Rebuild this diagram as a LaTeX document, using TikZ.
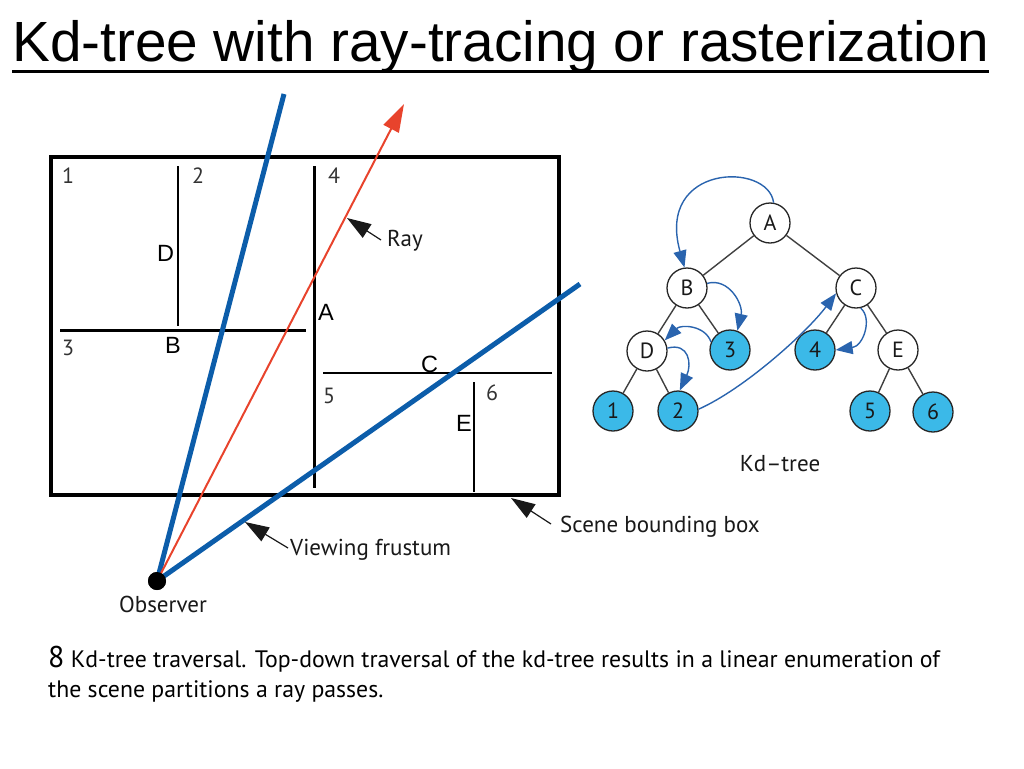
\documentclass[tikz,border=0pt]{standalone}
\usepackage{fontspec}
\setmainfont{Liberation Sans}
\newfontfamily\myr{PT Sans}
\usetikzlibrary{arrows.meta}
\definecolor{fblue}{HTML}{0C5DAA}
\definecolor{rred}{HTML}{E8432C}
\definecolor{leafc}{HTML}{3BB9E8}
\definecolor{curvec}{HTML}{2A64AE}
\definecolor{numgray}{HTML}{333333}
\begin{document}
\begin{tikzpicture}[x=1pt,y=1pt,
  lbl/.style={anchor=base west,inner sep=0,font=\fontsize{23.5}{24}\selectfont},
  num/.style={anchor=base west,inner sep=0,text=numgray,font=\myr\fontsize{22}{22}\selectfont},
  callout/.style={anchor=base west,inner sep=0,text=black!90,font=\myr\fontsize{23}{24}\selectfont},
  part/.style={line width=2.5pt,black},
  frust/.style={line width=5pt,fblue},
  pointer/.style={line width=1.2pt,black!90,-{Triangle[length=24pt,width=16pt]}},
  tnode/.style={circle,draw=black!85,line width=1.3pt,minimum size=40pt,inner sep=0,fill=white,text=black!90,font=\myr\fontsize{22}{22}\selectfont},
  leaf/.style={tnode,fill=leafc},
  tedge/.style={line width=1.4pt,black!75},
  trav/.style={line width=1.4pt,curvec,-{Triangle[length=17pt,width=13pt]},fill=none},
]
\useasboundingbox (0,0) rectangle (1024,-768);

% title
\node[anchor=base west,inner sep=0,font=\fontsize{56.7}{60}\selectfont] (title) at (12,-62) {Kd-tree with ray-tracing or rasterization};
\draw[line width=3pt] ([yshift=-9pt]title.base west) -- ([yshift=-9pt]title.base east);

% scene box and partitions
\draw[line width=4pt] (51,-157) rectangle (559,-495);
\draw[part] (178,-166) -- (178,-326);
\draw[part] (60,-330.5) -- (306,-330.5);
\draw[part] (314.5,-166) -- (314.5,-488);
\draw[part] (323,-373) -- (552,-373);
\draw[part] (474,-382) -- (474,-492);

% region numbers
\node[num] (n1) at (62,-183) {1};
\node[num] (n2) at (192,-183) {2};
\node[num] (n4) at (328,-183) {4};
\node[num] (n3) at (62,-355) {3};
\node[num] (n5) at (323,-403) {5};
\node[num] (n6) at (486,-400) {6};

% split labels
\node[lbl] (lD) at (157,-261) {D};
\node[lbl] (lB) at (165,-353) {B};
\node[lbl] (lA) at (318,-320) {A};
\node[lbl] (lC) at (421,-372) {C};
\node[lbl] (lE) at (456,-431) {E};

% observer, frustum, ray
\coordinate (f1) at (284,-94);
\coordinate (f2) at (580,-284);
\coordinate (rtip) at (404,-104);
\node[circle,fill=black,minimum size=18pt,inner sep=0] (obs) at (157,-581) {};
\draw[frust] (obs.center) -- (f1);
\draw[frust] (obs.center) -- (f2);
\draw[line width=2pt,rred,-{Triangle[length=28pt,width=17pt]}] (obs.center) -- (rtip);
\node[circle,fill=black,minimum size=18pt,inner sep=0] at (obs) {};

% callouts
\coordinate (rayp) at (347,-218);
\coordinate (frp) at (245,-522);
\coordinate (bbp) at (511,-498);
\node[callout] (tray) at (387,-246) {Ray};
\node[callout] (tfr) at (290,-555) {Viewing frustum};
\node[callout] (tbb) at (560,-532) {Scene bounding box};
\node[anchor=base,inner sep=0,text=black!90,font=\myr\fontsize{23}{24}\selectfont] (tobs) at (163,-612) {Observer};
\draw[pointer] (381,-240) -- (rayp);
\draw[pointer] (288,-548) -- (frp);
\draw[pointer] (551,-524) -- (bbp);

% kd-tree
\node[tnode] (A) at (770,-223) {A};
\node[tnode] (B) at (687,-288) {B};
\node[tnode] (C) at (856,-288) {C};
\node[tnode] (D) at (647,-351) {D};
\node[leaf]  (L3) at (730,-350) {3};
\node[leaf]  (L4) at (815,-350) {4};
\node[tnode] (E) at (898,-350) {E};
\node[leaf]  (L1) at (613,-411) {1};
\node[leaf]  (L2) at (678,-411) {2};
\node[leaf]  (L5) at (870,-411) {5};
\node[leaf]  (L6) at (933,-412) {6};
\draw[tedge] (A) -- (B);
\draw[tedge] (A) -- (C);
\draw[tedge] (B) -- (D);
\draw[tedge] (B) -- (L3);
\draw[tedge] (C) -- (L4);
\draw[tedge] (C) -- (E);
\draw[tedge] (D) -- (L1);
\draw[tedge] (D) -- (L2);
\draw[tedge] (E) -- (L5);
\draw[tedge] (E) -- (L6);

% traversal arrows
\draw[trav] (A.80) .. controls +(-5,41) and +(-29,104) .. (B.97);
\draw[trav] (B.13) .. controls +(22,6) and +(6,26) .. (L3.69);
\draw[trav] (L3.157) .. controls +(-6,17) and +(16,16) .. (D.31);
\draw[trav] (D.8) .. controls +(22,6) and +(12,26) .. (L2.85);
\draw[trav] (L2.5) .. controls +(45,20) and +(-30,-40) .. (C.195);
\draw[trav] (C.283) .. controls +(12,-10) and +(28,4) .. (L4.0);

\node[anchor=base,inner sep=0,text=black!90,font=\myr\fontsize{23}{24}\selectfont] (kdt) at (780,-471) {Kd–tree};

% caption
\node[anchor=base west,inner sep=0,text=black,font=\myr\fontsize{23.8}{26}\selectfont] (cap1) at (48,-667) {{\fontsize{30}{30}\selectfont 8} Kd-tree traversal. Top-down traversal of the kd-tree results in a linear enumeration of};
\node[anchor=base west,inner sep=0,text=black,font=\myr\fontsize{23.8}{26}\selectfont] (cap2) at (48,-697) {the scene partitions a ray passes.};
\end{tikzpicture}
\end{document}
